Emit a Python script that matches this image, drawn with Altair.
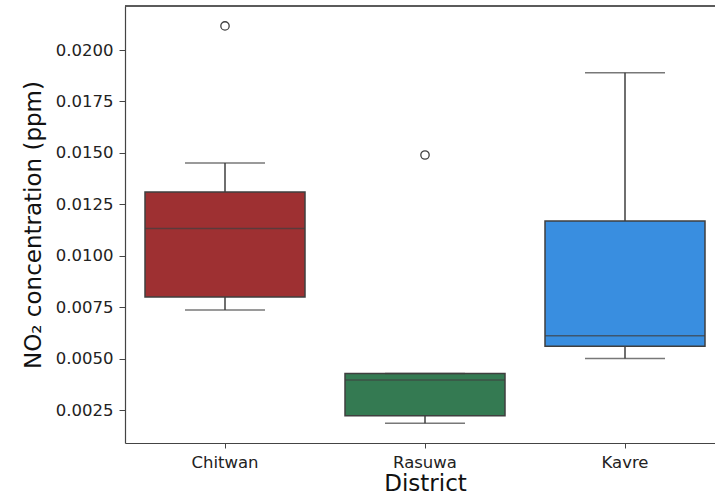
import altair as alt
import pandas as pd

districts = ["Chitwan", "Rasuwa", "Kavre"]
whisker_low = [0.00736, 0.00186, 0.00501]
q1 = [0.00800, 0.00222, 0.00560]
median = [0.01133, 0.00396, 0.00611]
q3 = [0.01310, 0.00428, 0.01169]
whisker_high = [0.01451, 0.00428, 0.01890]
outlier_district = ["Chitwan", "Rasuwa"]
outlier_value = [0.02117, 0.01490]
colors = ["#9e3032", "#347a52", "#398ee0"]

stats = pd.DataFrame({
    "District": districts,
    "lo": whisker_low,
    "q1": q1,
    "med": median,
    "q3": q3,
    "hi": whisker_high,
})
outl = pd.DataFrame({"District": outlier_district, "val": outlier_value})

FONT = "DejaVu Sans"
xscale = alt.Scale(domain=districts, range=[0, 600], paddingInner=0, paddingOuter=0)
xenc = alt.X(
    "District:N",
    sort=districts,
    scale=xscale,
    axis=alt.Axis(
        title="District", titleFontSize=23, titleFont=FONT, titleFontWeight="normal",
        titleColor="#111", labelFontSize=16.5, labelFont=FONT, labelColor="#222",
        labelAngle=0, tickSize=5, tickColor="#444", domainColor="#444",
        domainWidth=1.2, labelPadding=6, titlePadding=2,
    ),
)
yscale = alt.Scale(domain=[0.00090, 0.02214], nice=False, zero=False)
yaxis = alt.Axis(
    title="NO₂ concentration (ppm)", titleFontSize=23, titleFont=FONT,
    titleFontWeight="normal", titleColor="#111", format=".4f",
    values=[0.0025, 0.005, 0.0075, 0.01, 0.0125, 0.015, 0.0175, 0.02],
    labelFontSize=16.5, labelFont=FONT, labelColor="#222", tickSize=6,
    tickColor="#444", domainColor="#444", domainWidth=1.2, grid=False,
    labelPadding=6, titlePadding=10,
)
color = alt.Color("District:N", scale=alt.Scale(domain=districts, range=colors), legend=None)

base = alt.Chart(stats)
whisk = base.mark_rule(color="#3f3f3f", strokeWidth=1.5).encode(
    x=xenc, y=alt.Y("lo:Q", scale=yscale, axis=yaxis), y2="hi:Q"
)
box = base.mark_bar(size=160, stroke="#3f3f3f", strokeWidth=1.5).encode(
    x=xenc, y=alt.Y("q1:Q", scale=yscale), y2="q3:Q", color=color
)
med = base.mark_tick(size=160, thickness=1.5, color="#3f3f3f").encode(
    x=xenc, y=alt.Y("med:Q", scale=yscale)
)
cap_lo = base.mark_tick(size=80, thickness=1.5, color="#3f3f3f").encode(
    x=xenc, y=alt.Y("lo:Q", scale=yscale)
)
cap_hi = base.mark_tick(size=80, thickness=1.5, color="#3f3f3f").encode(
    x=xenc, y=alt.Y("hi:Q", scale=yscale)
)
pts = alt.Chart(outl).mark_point(shape="circle", filled=False, size=70, color="#3f3f3f", strokeWidth=1.3, opacity=1).encode(
    x=xenc, y=alt.Y("val:Q", scale=yscale)
)
# top spine of the frame (the right spine is cut off in the reference)
top_spine = alt.Chart(stats).mark_rule(color="#444", strokeWidth=1.2).encode(
    x=alt.value(0), x2=alt.value("width"), y=alt.value(0)
)

chart = alt.layer(whisk, box, med, cap_lo, cap_hi, pts, top_spine).properties(
    width=590, height=437,
    autosize=alt.AutoSizeParams(type="none"),
    padding={"left": 125, "top": 6, "right": 0, "bottom": 56},
    background="white",
).configure_view(stroke=None)

chart.save("out.html", embed_options={"renderer": "svg", "actions": False})
